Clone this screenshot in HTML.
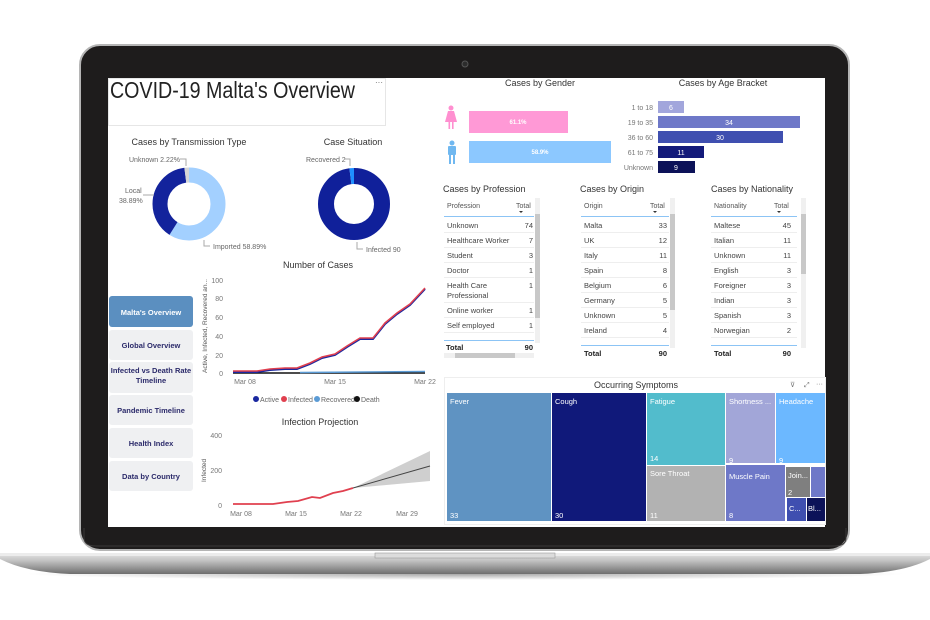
<!DOCTYPE html>
<html><head><meta charset="utf-8"><style>
html,body{margin:0;padding:0;background:#fff;}
svg{display:block;}
text{font-family:"Liberation Sans Narrow","Liberation Sans",sans-serif;}
</style></head><body>
<svg width="930" height="620" viewBox="0 0 930 620" xmlns="http://www.w3.org/2000/svg">
<defs>
<linearGradient id="base" x1="0" y1="0" x2="0" y2="1">
<stop offset="0" stop-color="#e6e6e6"/><stop offset="0.35" stop-color="#c4c4c4"/><stop offset="1" stop-color="#6e6e6e"/>
</linearGradient>
<radialGradient id="sh" cx="0.5" cy="0.5" r="0.5"><stop offset="0" stop-color="#000" stop-opacity="0.35"/><stop offset="1" stop-color="#000" stop-opacity="0"/></radialGradient>
</defs>
<!-- laptop lid -->
<rect x="80" y="45" width="769" height="505" rx="20" fill="#1e1c1c" stroke="#b5b5b5" stroke-width="2"/>
<path d="M84 528 V538 Q84 546 96 546 H834 Q846 546 846 538 V528" fill="none" stroke="#3a3838" stroke-width="1"/>
<circle cx="465" cy="64" r="3" fill="#2c2c2c" stroke="#555" stroke-width="1"/>
<rect x="108" y="78" width="717" height="449" fill="#fff"/>
<!-- base -->
<ellipse cx="465" cy="574" rx="440" ry="6" fill="url(#sh)"/>
<path d="M0 553 H930 V559 Q905 572 860 574 H70 Q25 572 0 559 Z" fill="url(#base)"/>
<rect x="0" y="553" width="930" height="3" fill="#ececec"/>
<rect x="375" y="553" width="180" height="5" fill="#dcdcdc" stroke="#999" stroke-width="0.6"/>

<!-- Title box -->
<rect x="108.5" y="78.5" width="277" height="47" fill="none" stroke="#e6e6e6"/>
<text x="110" y="98" font-size="23" fill="#222" textLength="245" lengthAdjust="spacingAndGlyphs">COVID-19 Malta's Overview</text>
<text x="375" y="85" font-size="8" fill="#666">···</text>

<!-- donuts -->
<g font-size="9" fill="#333" text-anchor="middle">
<text x="189" y="145">Cases by Transmission Type</text>
<text x="353" y="145">Case Situation</text>
<text x="318" y="268">Number of Cases</text>
<text x="320" y="425">Infection Projection</text>
<text x="540" y="86">Cases by Gender</text>
<text x="723" y="86">Cases by Age Bracket</text>
<text x="636" y="388">Occurring Symptoms</text>
</g>
<!-- transmission donut r=29 stroke 15, circumference 182.2 -->
<g transform="rotate(-90 189 204)" fill="none" stroke-width="15">
<circle cx="189" cy="204" r="29" stroke="#a3d0ff" stroke-dasharray="107.3 200"/>
<circle cx="189" cy="204" r="29" stroke="#13239c" stroke-dasharray="0 107.3 70.9 200"/>
<circle cx="189" cy="204" r="29" stroke="#d6d6d6" stroke-dasharray="0 178.2 4 200"/>
</g>
<g transform="rotate(-90 354 204)" fill="none" stroke-width="16">
<circle cx="354" cy="204" r="28" stroke="#10209a" stroke-dasharray="172 200"/>
<circle cx="354" cy="204" r="28" stroke="#1e90ff" stroke-dasharray="0 172 4 200"/>
</g>
<g font-size="7" fill="#666">
<text x="129" y="162">Unknown 2.22%</text>
<path d="M180 159 H186 V166" stroke="#aaa" fill="none"/>
<text x="125" y="193">Local</text>
<text x="119" y="203">38.89%</text>
<path d="M143 195 H154" stroke="#aaa"/>
<text x="213" y="249">Imported 58.89%</text>
<path d="M204 240 V246 H210" stroke="#aaa" fill="none"/>
<text x="306" y="162">Recovered 2</text>
<path d="M344 159 H350 V166" stroke="#aaa" fill="none"/>
<text x="366" y="252">Infected 90</text>
<path d="M357 242 V249 H363" stroke="#aaa" fill="none"/>
</g>

<!-- Number of cases chart -->
<g font-size="7" fill="#777" text-anchor="end">
<text x="223" y="283">100</text><text x="223" y="301">80</text><text x="223" y="320">60</text>
<text x="223" y="339">40</text><text x="223" y="358">20</text><text x="223" y="376">0</text>
</g>
<text transform="translate(207 373) rotate(-90)" font-size="6.5" fill="#555">Active, Infected, Recovered an...</text>
<g font-size="7" fill="#777" text-anchor="middle">
<text x="245" y="384">Mar 08</text><text x="335" y="384">Mar 15</text><text x="425" y="384">Mar 22</text>
</g>
<polyline points="233,373 425,373" stroke="#111" stroke-width="1.5" fill="none"/>
<polyline points="300,372.5 425,371.5" stroke="#5b9bd5" stroke-width="1.5" fill="none"/>
<polyline points="233,371 257,371 270,369 285,368 297,368 310,363 322,357 335,354 347,346 360,338 373,338 385,323 397,313 410,304 425,288" stroke="#1a28a0" stroke-width="2" fill="none" transform="translate(0 1)"/>
<polyline points="233,371 257,371 270,369 285,368 297,368 310,363 322,357 335,354 347,346 360,338 373,338 385,323 397,313 410,304 425,288" stroke="#e0404f" stroke-width="1.6" fill="none"/>
<g font-size="7" fill="#666">
<circle cx="256" cy="399" r="3" fill="#1a28a0"/><text x="260" y="402">Active</text>
<circle cx="284" cy="399" r="3" fill="#e0404f"/><text x="288" y="402">Infected</text>
<circle cx="317" cy="399" r="3" fill="#5b9bd5"/><text x="321" y="402">Recovered</text>
<circle cx="357" cy="399" r="3" fill="#111"/><text x="361" y="402">Death</text>
</g>

<!-- Projection -->
<g font-size="7" fill="#777" text-anchor="end">
<text x="222" y="438">400</text><text x="222" y="473">200</text><text x="222" y="508">0</text>
</g>
<text transform="translate(206 482) rotate(-90)" font-size="6.5" fill="#555">Infected</text>
<g font-size="7" fill="#777" text-anchor="middle">
<text x="241" y="516">Mar 08</text><text x="296" y="516">Mar 15</text><text x="351" y="516">Mar 22</text><text x="407" y="516">Mar 29</text>
</g>
<path d="M353 488 L430 451 L430 481 Z" fill="#cfcfcf"/>
<polyline points="353,488 430,466" stroke="#444" stroke-width="1" fill="none"/>
<polyline points="233,504 273,504 287,502 298,501 312,497 320,498 333,493 343,491 353,488" stroke="#e0404f" stroke-width="1.8" fill="none"/>

<!-- nav buttons -->
<rect x="109" y="296" width="84" height="31" rx="3" fill="#5b8fc0"/>
<rect x="109" y="330" width="84" height="30" rx="3" fill="#eff0f2"/>
<rect x="109" y="362" width="84" height="31" rx="3" fill="#eff0f2"/>
<rect x="109" y="395" width="84" height="30" rx="3" fill="#eff0f2"/>
<rect x="109" y="428" width="84" height="30" rx="3" fill="#eff0f2"/>
<rect x="109" y="461" width="84" height="30" rx="3" fill="#eff0f2"/>
<g font-size="7.5" font-weight="bold" fill="#2b2a6a" text-anchor="middle">
<text x="151" y="315" fill="#fff">Malta's Overview</text>
<text x="151" y="348">Global Overview</text>
<text x="151" y="373">Infected vs Death Rate</text>
<text x="151" y="383">Timeline</text>
<text x="151" y="413">Pandemic Timeline</text>
<text x="151" y="446">Health Index</text>
<text x="151" y="479">Data by Country</text>
</g>

<!-- Gender -->
<g fill="#ff8fd0">
<circle cx="451" cy="108" r="2.5"/><path d="M448 111 H454 L457 122 H445 Z"/><rect x="448.5" y="122" width="1.6" height="7"/><rect x="452" y="122" width="1.6" height="7"/>
</g>
<g fill="#70b8f0">
<circle cx="452" cy="143" r="2.5"/><rect x="448" y="146" width="8" height="9" rx="1"/><rect x="449" y="155" width="2" height="9"/><rect x="453" y="155" width="2" height="9"/>
</g>
<rect x="469" y="111" width="99" height="22" fill="#ff99d6"/>
<rect x="469" y="141" width="142" height="22" fill="#8cc8ff"/>
<g font-size="6" fill="#fff" text-anchor="middle" font-weight="bold">
<text x="518" y="124">61.1%</text><text x="540" y="154">58.9%</text>
</g>
<!-- Age -->
<g font-size="7" fill="#777" text-anchor="end">
<text x="653" y="110">1 to 18</text><text x="653" y="125">19 to 35</text><text x="653" y="140">36 to 60</text><text x="653" y="155">61 to 75</text><text x="653" y="170">Unknown</text>
</g>
<rect x="658" y="101" width="26" height="12" fill="#a2a6dc"/>
<rect x="658" y="116" width="142" height="12" fill="#6e78c8"/>
<rect x="658" y="131" width="125" height="12" fill="#3f4fb0"/>
<rect x="658" y="146" width="46" height="12" fill="#131a7a"/>
<rect x="658" y="161" width="37" height="12" fill="#0c1258"/>
<g font-size="7" fill="#fff" text-anchor="middle">
<text x="671" y="110">6</text><text x="729" y="125">34</text><text x="720" y="140">30</text><text x="681" y="155">11</text><text x="676" y="170">9</text>
</g>

<!-- Tables -->
<g font-size="9" fill="#333">
<text x="443" y="192">Cases by Profession</text>
<text x="580" y="192">Cases by Origin</text>
<text x="711" y="192">Cases by Nationality</text>
</g>
<g font-size="7" fill="#555">
<text x="447" y="208">Profession</text><text x="516" y="208">Total</text>
<text x="584" y="208">Origin</text><text x="650" y="208">Total</text>
<text x="714" y="208">Nationality</text><text x="774" y="208">Total</text>
</g>
<g fill="#333"><path d="M519 211 h4 l-2 2z M653 211 h4 l-2 2z M777 211 h4 l-2 2z"/></g>
<g stroke="#8cc4f5" stroke-width="1">
<path d="M444 216.5 H534 M581 216.5 H669 M711 216.5 H797"/>
<path d="M444 340.5 H534 M581 345.5 H669 M711 345.5 H797"/>
</g>
<g stroke="#eee" stroke-width="1">
<path d="M444 232.5 H534 M444 247.5 H534 M444 262.5 H534 M444 277.5 H534 M444 302.5 H534 M444 317.5 H534 M444 332.5 H534"/>
<path d="M581 232.5 H669 M581 247.5 H669 M581 262.5 H669 M581 277.5 H669 M581 292.5 H669 M581 307.5 H669 M581 322.5 H669 M581 337.5 H669"/>
<path d="M711 232.5 H797 M711 247.5 H797 M711 262.5 H797 M711 277.5 H797 M711 292.5 H797 M711 307.5 H797 M711 322.5 H797 M711 337.5 H797"/>
</g>
<g font-size="7.5" fill="#444">
<text x="447" y="228">Unknown</text><text x="447" y="243">Healthcare Worker</text><text x="447" y="258">Student</text><text x="447" y="273">Doctor</text><text x="447" y="288">Health Care</text><text x="447" y="298">Professional</text><text x="447" y="313">Online worker</text><text x="447" y="328">Self employed</text>
<text x="584" y="228">Malta</text><text x="584" y="243">UK</text><text x="584" y="258">Italy</text><text x="584" y="273">Spain</text><text x="584" y="288">Belgium</text><text x="584" y="303">Germany</text><text x="584" y="318">Unknown</text><text x="584" y="333">Ireland</text>
<text x="714" y="228">Maltese</text><text x="714" y="243">Italian</text><text x="714" y="258">Unknown</text><text x="714" y="273">English</text><text x="714" y="288">Foreigner</text><text x="714" y="303">Indian</text><text x="714" y="318">Spanish</text><text x="714" y="333">Norwegian</text>
</g>
<g font-size="7.5" fill="#444" text-anchor="end">
<text x="533" y="228">74</text><text x="533" y="243">7</text><text x="533" y="258">3</text><text x="533" y="273">1</text><text x="533" y="288">1</text><text x="533" y="313">1</text><text x="533" y="328">1</text>
<text x="667" y="228">33</text><text x="667" y="243">12</text><text x="667" y="258">11</text><text x="667" y="273">8</text><text x="667" y="288">6</text><text x="667" y="303">5</text><text x="667" y="318">5</text><text x="667" y="333">4</text>
<text x="791" y="228">45</text><text x="791" y="243">11</text><text x="791" y="258">11</text><text x="791" y="273">3</text><text x="791" y="288">3</text><text x="791" y="303">3</text><text x="791" y="318">3</text><text x="791" y="333">2</text>
</g>
<g font-size="7.5" font-weight="bold" fill="#222">
<text x="446" y="350">Total</text><text x="533" y="350" text-anchor="end">90</text>
<text x="584" y="356">Total</text><text x="667" y="356" text-anchor="end">90</text>
<text x="714" y="356">Total</text><text x="791" y="356" text-anchor="end">90</text>
</g>
<g fill="#f0f0f0"><rect x="535" y="198" width="5" height="145"/><rect x="670" y="198" width="5" height="150"/><rect x="801" y="198" width="5" height="150"/><rect x="444" y="353" width="90" height="5"/></g>
<g fill="#c8c8c8"><rect x="535" y="214" width="5" height="104"/><rect x="670" y="214" width="5" height="96"/><rect x="801" y="214" width="5" height="60"/><rect x="455" y="353" width="60" height="5"/></g>

<!-- Treemap -->
<rect x="444.5" y="377.5" width="381" height="147" fill="none" stroke="#eee"/>
<g font-size="7" fill="#777"><text x="790" y="387">⊽</text><text x="804" y="387">⤢</text><text x="816" y="386">···</text></g>
<rect x="447" y="393" width="104" height="128" fill="#5f93c2"/>
<rect x="552" y="393" width="94" height="128" fill="#10197a"/>
<rect x="647" y="393" width="78" height="72" fill="#52bccc"/>
<rect x="647" y="466" width="78" height="55" fill="#b2b2b2"/>
<rect x="726" y="393" width="49" height="70" fill="#a2a6d8"/>
<rect x="776" y="393" width="49" height="70" fill="#6cb8ff"/>
<rect x="726" y="465" width="59" height="56" fill="#6e78c8"/>
<rect x="786" y="467" width="24" height="30" fill="#7f7f7f"/>
<rect x="811" y="467" width="14" height="30" fill="#6e78c8"/>
<rect x="787" y="498" width="19" height="23" fill="#3f4fb0"/>
<rect x="807" y="498" width="18" height="23" fill="#0c1258"/>
<g font-size="7.5" fill="#fff">
<text x="450" y="404">Fever</text><text x="450" y="518">33</text>
<text x="555" y="404">Cough</text><text x="555" y="518">30</text>
<text x="650" y="404">Fatigue</text><text x="650" y="461">14</text>
<text x="650" y="476">Sore Throat</text><text x="650" y="518">11</text>
<text x="729" y="404">Shortness ...</text><text x="729" y="463">9</text>
<text x="779" y="404">Headache</text><text x="779" y="463">9</text>
<text x="729" y="479">Muscle Pain</text><text x="729" y="518">8</text>
<text x="788" y="478">Join...</text><text x="788" y="495">2</text>
<text x="789" y="511">C...</text><text x="808" y="511">Bl...</text>
</g>
</svg>
</body></html>
